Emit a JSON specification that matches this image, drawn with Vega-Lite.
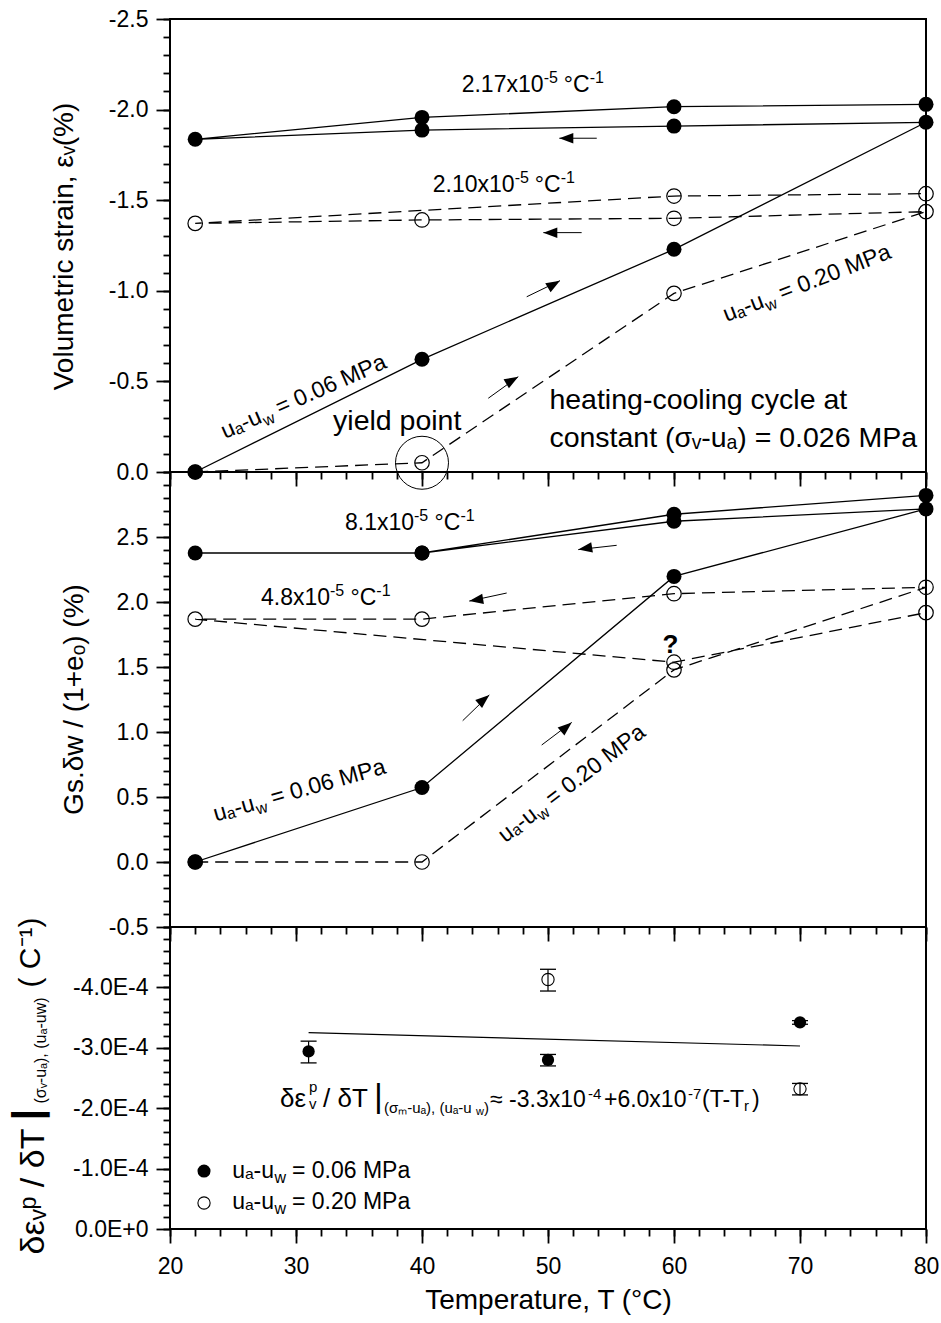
{
  "$schema": "https://vega.github.io/schema/vega-lite/v6.json",
  "background": "white",
  "padding": {"left": 6, "top": 7, "right": 0, "bottom": 0},
  "spacing": 0,
  "bounds": "flush",
  "config": {
    "font": "Liberation Sans",
    "view": {"stroke": "black", "strokeWidth": 2},
    "axis": {"tickColor": "black", "labelColor": "black", "titleColor": "black", "titleFontWeight": "normal", "labelFontSize": 23, "tickWidth": 1.8, "grid": false, "domain": false, "labelFlush": false, "labelOverlap": false},
    "text": {"color": "black"}
  },
  "datasets": {
    "strainF": [
      {"seq": 1, "T": 22, "v": 0}, {"seq": 2, "T": 40, "v": -0.622}, {"seq": 3, "T": 60, "v": -1.229}, {"seq": 4, "T": 80, "v": -1.93},
      {"seq": 5, "T": 60, "v": -1.909}, {"seq": 6, "T": 40, "v": -1.887}, {"seq": 7, "T": 22, "v": -1.836},
      {"seq": 8, "T": 40, "v": -1.957}, {"seq": 9, "T": 60, "v": -2.016}, {"seq": 10, "T": 80, "v": -2.029}
    ],
    "strainO": [
      {"seq": 1, "T": 22, "v": 0}, {"seq": 2, "T": 40, "v": -0.051}, {"seq": 3, "T": 60, "v": -0.986}, {"seq": 4, "T": 80, "v": -1.437},
      {"seq": 5, "T": 60, "v": -1.4}, {"seq": 6, "T": 40, "v": -1.391}, {"seq": 7, "T": 22, "v": -1.372},
      {"seq": 8, "T": 60, "v": -1.523}, {"seq": 9, "T": 80, "v": -1.536}
    ],
    "waterF": [
      {"seq": 1, "T": 22, "v": 0}, {"seq": 2, "T": 40, "v": 0.573}, {"seq": 3, "T": 60, "v": 2.197}, {"seq": 4, "T": 80, "v": 2.716},
      {"seq": 5, "T": 60, "v": 2.621}, {"seq": 6, "T": 40, "v": 2.377}, {"seq": 7, "T": 22, "v": 2.377},
      {"seq": 8, "T": 40, "v": 2.377}, {"seq": 9, "T": 60, "v": 2.675}, {"seq": 10, "T": 80, "v": 2.82}
    ],
    "waterO": [
      {"seq": 1, "T": 22, "v": 0}, {"seq": 2, "T": 40, "v": 0}, {"seq": 3, "T": 60, "v": 1.478}, {"seq": 4, "T": 80, "v": 2.113},
      {"seq": 5, "T": 60, "v": 2.064}, {"seq": 6, "T": 40, "v": 1.868}, {"seq": 7, "T": 22, "v": 1.868},
      {"seq": 8, "T": 60, "v": 1.537}, {"seq": 9, "T": 80, "v": 1.918}
    ],
    "yield": [{"T": 40, "v": -0.051}],
    "arr1L": [{"T": 50.9, "v": -1.842, "Ts": 53.87, "vs": -1.842}, {"T": 49.63, "v": -1.321, "Ts": 52.67, "vs": -1.321}],
    "arr1D": [{"T": 50.95, "v": -1.056, "Ts": 48.31, "vs": -0.967}, {"T": 47.64, "v": -0.526, "Ts": 45.26, "vs": -0.407}],
    "arr2L": [{"T": 52.4, "v": 2.403, "Ts": 55.45, "vs": 2.436}, {"T": 43.75, "v": 2.007, "Ts": 46.72, "vs": 2.069}],
    "arr2D": [{"T": 45.34, "v": 1.285, "Ts": 43.23, "vs": 1.087}, {"T": 51.88, "v": 1.074, "Ts": 49.5, "vs": 0.9}],
    "t1": [{"T": 43.15, "v": -2.097, "base": "2.17x10", "e1": "-5", "unit": "°C", "e2": "-1"}, {"T": 40.85, "v": -1.547, "base": "2.10x10", "e1": "-5", "unit": "°C", "e2": "-1"}],
    "t1big": [{"T": 32.94, "v": -0.232, "text": "yield point"}, {"T": 50.11, "v": -0.346, "text": "heating-cooling cycle at"}, {"T": 50.11, "v": -0.14, "text": "constant (σᵥ-uₐ) = 0.026 MPa"}],
    "lab1a": [{"T": 27.4, "v": -0.275, "pre": "uₐ-u", "sub": "w", "post": "= 0.06 MPa"}],
    "lab1b": [{"T": 67.26, "v": -0.911, "pre": "uₐ-u", "sub": "w", "post": "= 0.20 MPa"}],
    "t2": [{"T": 33.89, "v": 2.557, "base": "8.1x10", "e1": "-5", "unit": "°C", "e2": "-1"}, {"T": 27.22, "v": 1.974, "base": "4.8x10", "e1": "-5", "unit": "°C", "e2": "-1"}],
    "q": [{"T": 59.72, "v": 1.606, "text": "?"}],
    "lab2a": [{"T": 26.82, "v": 0.399, "pre": "uₐ-u", "sub": "w", "post": "= 0.06 MPa"}],
    "lab2b": [{"T": 49.25, "v": 0.34, "pre": "uₐ-u", "sub": "w", "post": "= 0.20 MPa"}],
    "rate": [
      {"s": "f", "T": 31, "v": -0.000294, "lo": -0.000311, "hi": -0.000275},
      {"s": "f", "T": 50, "v": -0.00028, "lo": -0.000289, "hi": -0.00027},
      {"s": "f", "T": 70, "v": -0.000342, "lo": -0.000345, "hi": -0.000339},
      {"s": "o", "T": 50, "v": -0.000413, "lo": -0.00043, "hi": -0.000394},
      {"s": "o", "T": 70, "v": -0.000232, "lo": -0.000241, "hi": -0.000222}
    ],
    "fit": [{"T": 31, "v": -0.000325}, {"T": 70, "v": -0.000303}],
    "leg": [{"s": "f", "T": 22.7, "v": -0.000096}, {"s": "o", "T": 22.7, "v": -0.000043}],
    "legText": [
      {"T": 28.25, "v": -0.0000843, "pre": "uₐ-u", "sub": "w", "post": "= 0.06 MPa"},
      {"T": 28.25, "v": -0.0000334, "pre": "uₐ-u", "sub": "w", "post": "= 0.20 MPa"}
    ],
    "eqGreek": [
      {"T": 28.73, "v": -0.0002028, "text": "δε"},
      {"T": 32.14, "v": -0.0002028, "text": "/ δT"}
    ],
    "eqMain": [
      {"T": 45.4, "v": -0.0002028, "text": "≈ -3.3x10"},
      {"T": 54.44, "v": -0.0002028, "text": "+6.0x10"},
      {"T": 62.22, "v": -0.0002028, "text": "(T-T"},
      {"T": 66.19, "v": -0.0002028, "text": ")"}
    ],
    "eqSup": [
      {"T": 31.03, "v": -0.000227, "text": "p"},
      {"T": 53.17, "v": -0.0002159, "text": "-4"},
      {"T": 61.11, "v": -0.0002159, "text": "-7"}
    ],
    "eqSub": [
      {"T": 31.03, "v": -0.0001995, "text": "v"},
      {"T": 36.98, "v": -0.0001918, "text": "(σₘ-uₐ), (uₐ-u"},
      {"T": 44.92, "v": -0.0001918, "text": ")"},
      {"T": 65.56, "v": -0.0001946, "text": "r"}
    ],
    "eqTiny": [{"T": 44.29, "v": -0.000188, "text": "w"}],
    "eqBar": [{"T": 36.19, "v": -0.0002028, "text": "|"}]
  },
  "vconcat": [
    {
      "width": 756, "height": 453,
      "encoding": {
        "x": {"field": "T", "type": "quantitative", "scale": {"domain": [20, 80], "nice": false, "zero": false}, "axis": null},
        "y": {"field": "v", "type": "quantitative", "scale": {"domain": [-2.5, 0], "reverse": true, "nice": false, "zero": false}, "axis": null}
      },
      "layer": [
        {"data": {"name": "strainO"}, "mark": {"type": "line", "color": "black", "strokeWidth": 1.3, "strokeDash": [13, 7]},
         "encoding": {"order": {"field": "seq", "type": "quantitative"},
           "x": {"field": "T", "type": "quantitative", "scale": {"domain": [20, 80], "nice": false, "zero": false},
                 "axis": {"orient": "bottom", "values": [20, 30, 40, 50, 60, 70, 80], "tickSize": 14, "labels": false, "title": null}},
           "y": {"field": "v", "type": "quantitative", "scale": {"domain": [-2.5, 0], "reverse": true, "nice": false, "zero": false},
                 "axis": {"orient": "left", "values": [-2.5, -2, -1.5, -1, -0.5, 0], "tickSize": 14, "labelPadding": 8,
                          "labelExpr": "datum.value == 0 ? '0.0' : '-' + format(-datum.value, '.1f')",
                          "title": "Volumetric strain, εᵥ(%)", "titleFontSize": 28, "titleX": -98, "titleY": 227, "titleBaseline": "alphabetic"}}}},
        {"data": {"name": "strainF"}, "mark": {"type": "line", "color": "black", "strokeWidth": 1.3},
         "encoding": {"order": {"field": "seq", "type": "quantitative"},
           "x": {"field": "T", "type": "quantitative", "scale": {"domain": [20, 80], "nice": false, "zero": false},
                 "axis": {"orient": "bottom", "values": [20,22,24,26,28,30,32,34,36,38,40,42,44,46,48,50,52,54,56,58,60,62,64,66,68,70,72,74,76,78,80], "tickSize": 7, "labels": false, "title": null}},
           "y": {"field": "v", "type": "quantitative", "scale": {"domain": [-2.5, 0], "reverse": true, "nice": false, "zero": false},
                 "axis": {"orient": "left", "values": [-2.5,-2.4,-2.3,-2.2,-2.1,-2,-1.9,-1.8,-1.7,-1.6,-1.5,-1.4,-1.3,-1.2,-1.1,-1,-0.9,-0.8,-0.7,-0.6,-0.5,-0.4,-0.3,-0.2,-0.1,0], "tickSize": 7, "labels": false, "title": null}}}},
        {"data": {"name": "strainO"}, "mark": {"type": "point", "shape": "circle", "filled": false, "color": "black", "strokeWidth": 1.2, "size": 210, "opacity": 1}},
        {"data": {"name": "strainF"}, "mark": {"type": "point", "shape": "circle", "filled": true, "color": "black", "size": 225, "opacity": 1}},
        {"data": {"name": "yield"}, "mark": {"type": "point", "shape": "circle", "filled": false, "color": "black", "strokeWidth": 1, "size": 2809, "opacity": 1}},
        {"data": {"name": "arr1L"}, "mark": {"type": "rule", "color": "black", "strokeWidth": 1}, "encoding": {"x2": {"field": "Ts"}, "y2": {"field": "vs"}}},
        {"data": {"name": "arr1L"}, "mark": {"type": "point", "shape": "M0,0L-2,-0.75L-2,0.75Z", "filled": true, "color": "black", "size": 196, "opacity": 1, "angle": 180}},
        {"data": {"name": "arr1D"}, "mark": {"type": "rule", "color": "black", "strokeWidth": 1}, "encoding": {"x2": {"field": "Ts"}, "y2": {"field": "vs"}}},
        {"data": {"name": "arr1D"}, "mark": {"type": "point", "shape": "M0,0L-2,-0.75L-2,0.75Z", "filled": true, "color": "black", "size": 196, "opacity": 1, "angle": 329.3}},
        {"data": {"name": "t1"}, "mark": {"type": "text", "align": "left", "baseline": "alphabetic", "fontSize": 23}, "encoding": {"text": {"field": "base", "type": "nominal"}}},
        {"data": {"name": "t1"}, "mark": {"type": "text", "align": "left", "baseline": "alphabetic", "fontSize": 16, "dx": 82, "dy": -9}, "encoding": {"text": {"field": "e1", "type": "nominal"}}},
        {"data": {"name": "t1"}, "mark": {"type": "text", "align": "left", "baseline": "alphabetic", "fontSize": 23, "dx": 102}, "encoding": {"text": {"field": "unit", "type": "nominal"}}},
        {"data": {"name": "t1"}, "mark": {"type": "text", "align": "left", "baseline": "alphabetic", "fontSize": 16, "dx": 128, "dy": -9}, "encoding": {"text": {"field": "e2", "type": "nominal"}}},
        {"data": {"name": "t1big"}, "mark": {"type": "text", "align": "left", "baseline": "alphabetic", "fontSize": 28.5}, "encoding": {"text": {"field": "text", "type": "nominal"}}},
        {"data": {"name": "lab1a"}, "mark": {"type": "text", "angle": 336.3, "align": "right", "baseline": "alphabetic", "fontSize": 23}, "encoding": {"text": {"field": "pre", "type": "nominal"}}},
        {"data": {"name": "lab1a"}, "mark": {"type": "text", "angle": 336.3, "align": "left", "baseline": "alphabetic", "fontSize": 16, "dx": 0.5, "dy": 5}, "encoding": {"text": {"field": "sub", "type": "nominal"}}},
        {"data": {"name": "lab1a"}, "mark": {"type": "text", "angle": 336.3, "align": "left", "baseline": "alphabetic", "fontSize": 23, "dx": 18}, "encoding": {"text": {"field": "post", "type": "nominal"}}},
        {"data": {"name": "lab1b"}, "mark": {"type": "text", "angle": 338.8, "align": "right", "baseline": "alphabetic", "fontSize": 23}, "encoding": {"text": {"field": "pre", "type": "nominal"}}},
        {"data": {"name": "lab1b"}, "mark": {"type": "text", "angle": 338.8, "align": "left", "baseline": "alphabetic", "fontSize": 16, "dx": 0.5, "dy": 5}, "encoding": {"text": {"field": "sub", "type": "nominal"}}},
        {"data": {"name": "lab1b"}, "mark": {"type": "text", "angle": 338.8, "align": "left", "baseline": "alphabetic", "fontSize": 23, "dx": 18}, "encoding": {"text": {"field": "post", "type": "nominal"}}}
      ],
      "resolve": {"axis": {"x": "independent", "y": "independent"}}
    },
    {
      "width": 756, "height": 455,
      "encoding": {
        "x": {"field": "T", "type": "quantitative", "scale": {"domain": [20, 80], "nice": false, "zero": false}, "axis": null},
        "y": {"field": "v", "type": "quantitative", "scale": {"domain": [-0.5, 3], "nice": false, "zero": false}, "axis": null}
      },
      "layer": [
        {"data": {"name": "waterO"}, "mark": {"type": "line", "color": "black", "strokeWidth": 1.3, "strokeDash": [13, 7]},
         "encoding": {"order": {"field": "seq", "type": "quantitative"},
           "x": {"field": "T", "type": "quantitative", "scale": {"domain": [20, 80], "nice": false, "zero": false},
                 "axis": {"orient": "bottom", "values": [20, 30, 40, 50, 60, 70, 80], "tickSize": 14, "labels": false, "title": null}},
           "y": {"field": "v", "type": "quantitative", "scale": {"domain": [-0.5, 3], "nice": false, "zero": false},
                 "axis": {"orient": "left", "values": [-0.5, 0, 0.5, 1, 1.5, 2, 2.5], "tickSize": 14, "labelPadding": 8,
                          "labelExpr": "datum.value < 0 ? '-' + format(-datum.value, '.1f') : format(datum.value, '.1f')",
                          "title": "Gs.δw / (1+eₒ)  (%)", "titleFontSize": 28, "titleX": -88, "titleY": 227, "titleBaseline": "alphabetic"}}}},
        {"data": {"name": "waterF"}, "mark": {"type": "line", "color": "black", "strokeWidth": 1.3},
         "encoding": {"order": {"field": "seq", "type": "quantitative"},
           "x": {"field": "T", "type": "quantitative", "scale": {"domain": [20, 80], "nice": false, "zero": false},
                 "axis": {"orient": "bottom", "values": [20,22,24,26,28,30,32,34,36,38,40,42,44,46,48,50,52,54,56,58,60,62,64,66,68,70,72,74,76,78,80], "tickSize": 7, "labels": false, "title": null}},
           "y": {"field": "v", "type": "quantitative", "scale": {"domain": [-0.5, 3], "nice": false, "zero": false},
                 "axis": {"orient": "left", "values": [-0.5,-0.4,-0.3,-0.2,-0.1,0,0.1,0.2,0.3,0.4,0.5,0.6,0.7,0.8,0.9,1,1.1,1.2,1.3,1.4,1.5,1.6,1.7,1.8,1.9,2,2.1,2.2,2.3,2.4,2.5,2.6,2.7,2.8,2.9,3], "tickSize": 7, "labels": false, "title": null}}}},
        {"data": {"name": "waterO"}, "mark": {"type": "point", "shape": "circle", "filled": false, "color": "black", "strokeWidth": 1.2, "size": 210, "opacity": 1}},
        {"data": {"name": "waterF"}, "mark": {"type": "point", "shape": "circle", "filled": true, "color": "black", "size": 225, "opacity": 1}},
        {"data": {"name": "arr2L"}, "mark": {"type": "rule", "color": "black", "strokeWidth": 1}, "encoding": {"x2": {"field": "Ts"}, "y2": {"field": "vs"}}},
        {"data": {"name": "arr2L"}, "mark": {"type": "point", "shape": "M0,0L-2,-0.75L-2,0.75Z", "filled": true, "color": "black", "size": 196, "opacity": 1, "angle": 170.7}},
        {"data": {"name": "arr2D"}, "mark": {"type": "rule", "color": "black", "strokeWidth": 1}, "encoding": {"x2": {"field": "Ts"}, "y2": {"field": "vs"}}},
        {"data": {"name": "arr2D"}, "mark": {"type": "point", "shape": "M0,0L-2,-0.75L-2,0.75Z", "filled": true, "color": "black", "size": 196, "opacity": 1, "angle": 319.5}},
        {"data": {"name": "t2"}, "mark": {"type": "text", "align": "left", "baseline": "alphabetic", "fontSize": 23}, "encoding": {"text": {"field": "base", "type": "nominal"}}},
        {"data": {"name": "t2"}, "mark": {"type": "text", "align": "left", "baseline": "alphabetic", "fontSize": 16, "dx": 69, "dy": -9}, "encoding": {"text": {"field": "e1", "type": "nominal"}}},
        {"data": {"name": "t2"}, "mark": {"type": "text", "align": "left", "baseline": "alphabetic", "fontSize": 23, "dx": 89.6}, "encoding": {"text": {"field": "unit", "type": "nominal"}}},
        {"data": {"name": "t2"}, "mark": {"type": "text", "align": "left", "baseline": "alphabetic", "fontSize": 16, "dx": 115.4, "dy": -9}, "encoding": {"text": {"field": "e2", "type": "nominal"}}},
        {"data": {"name": "q"}, "mark": {"type": "text", "align": "center", "baseline": "alphabetic", "fontSize": 26, "fontWeight": "bold"}, "encoding": {"text": {"field": "text", "type": "nominal"}}},
        {"data": {"name": "lab2a"}, "mark": {"type": "text", "angle": 344.2, "align": "right", "baseline": "alphabetic", "fontSize": 23}, "encoding": {"text": {"field": "pre", "type": "nominal"}}},
        {"data": {"name": "lab2a"}, "mark": {"type": "text", "angle": 344.2, "align": "left", "baseline": "alphabetic", "fontSize": 16, "dx": 0.5, "dy": 5}, "encoding": {"text": {"field": "sub", "type": "nominal"}}},
        {"data": {"name": "lab2a"}, "mark": {"type": "text", "angle": 344.2, "align": "left", "baseline": "alphabetic", "fontSize": 23, "dx": 18}, "encoding": {"text": {"field": "post", "type": "nominal"}}},
        {"data": {"name": "lab2b"}, "mark": {"type": "text", "angle": 322.6, "align": "right", "baseline": "alphabetic", "fontSize": 23}, "encoding": {"text": {"field": "pre", "type": "nominal"}}},
        {"data": {"name": "lab2b"}, "mark": {"type": "text", "angle": 322.6, "align": "left", "baseline": "alphabetic", "fontSize": 16, "dx": 0.5, "dy": 5}, "encoding": {"text": {"field": "sub", "type": "nominal"}}},
        {"data": {"name": "lab2b"}, "mark": {"type": "text", "angle": 322.6, "align": "left", "baseline": "alphabetic", "fontSize": 23, "dx": 18}, "encoding": {"text": {"field": "post", "type": "nominal"}}}
      ],
      "resolve": {"axis": {"x": "independent", "y": "independent"}}
    },
    {
      "width": 756, "height": 302,
      "encoding": {
        "x": {"field": "T", "type": "quantitative", "scale": {"domain": [20, 80], "nice": false, "zero": false}, "axis": null},
        "y": {"field": "v", "type": "quantitative", "scale": {"domain": [-0.0005, 0], "reverse": true, "nice": false, "zero": false}, "axis": null}
      },
      "layer": [
        {"data": {"name": "fit"}, "mark": {"type": "line", "color": "black", "strokeWidth": 1.2},
         "encoding": {
           "x": {"field": "T", "type": "quantitative", "scale": {"domain": [20, 80], "nice": false, "zero": false},
                 "axis": {"orient": "bottom", "values": [20, 30, 40, 50, 60, 70, 80], "tickSize": 14, "labelPadding": 12,
                          "title": "Temperature, T (°C)", "titleFontSize": 28, "titleX": 378, "titleY": 79, "titleBaseline": "alphabetic"}},
           "y": {"field": "v", "type": "quantitative", "scale": {"domain": [-0.0005, 0], "reverse": true, "nice": false, "zero": false},
                 "axis": {"orient": "left", "values": [-0.0004, -0.0003, -0.0002, -0.0001, 0], "tickSize": 14, "labelPadding": 8,
                          "labelExpr": "datum.value == 0 ? '0.0E+0' : '-' + format(-datum.value * 10000, '.1f') + 'E-4'",
                          "title": "δεᵥᵖ / δT", "titleFontSize": 34, "titleX": -127, "titleY": 264, "titleBaseline": "alphabetic"}}}},
        {"data": {"name": "rate"}, "mark": {"type": "rule", "color": "black", "strokeWidth": 1.2},
         "encoding": {
           "x": {"field": "T", "type": "quantitative", "scale": {"domain": [20, 80], "nice": false, "zero": false},
                 "axis": {"orient": "bottom", "values": [20,22,24,26,28,30,32,34,36,38,40,42,44,46,48,50,52,54,56,58,60,62,64,66,68,70,72,74,76,78,80], "tickSize": 7, "labels": false, "title": null}},
           "y": {"field": "lo", "type": "quantitative", "scale": {"domain": [-0.0005, 0], "reverse": true, "nice": false, "zero": false},
                 "axis": {"orient": "left", "values": [0,-0.00002,-0.00004,-0.00006,-0.00008,-0.0001,-0.00012,-0.00014,-0.00016,-0.00018,-0.0002,-0.00022,-0.00024,-0.00026,-0.00028,-0.0003,-0.00032,-0.00034,-0.00036,-0.00038,-0.0004,-0.00042,-0.00044,-0.00046,-0.00048,-0.0005], "tickSize": 7, "labels": false,
                          "title": "|", "titleFontSize": 41, "titleFontWeight": "bold", "titleX": -129.6, "titleY": 187, "titleBaseline": "alphabetic"}},
           "y2": {"field": "hi"}}},
        {"data": {"name": "rate"}, "mark": {"type": "tick", "orient": "horizontal", "size": 16, "thickness": 1.3, "color": "black", "opacity": 1},
         "encoding": {"y": {"field": "lo", "type": "quantitative", "scale": {"domain": [-0.0005, 0], "reverse": true, "nice": false, "zero": false}, "axis": null}}},
        {"data": {"name": "rate"}, "mark": {"type": "tick", "orient": "horizontal", "size": 16, "thickness": 1.3, "color": "black", "opacity": 1},
         "encoding": {"y": {"field": "hi", "type": "quantitative", "scale": {"domain": [-0.0005, 0], "reverse": true, "nice": false, "zero": false}, "axis": null}}},
        {"data": {"name": "rate"}, "transform": [{"filter": "datum.s == 'f'"}], "mark": {"type": "point", "shape": "circle", "filled": true, "color": "black", "size": 150, "opacity": 1}},
        {"data": {"name": "rate"}, "transform": [{"filter": "datum.s == 'o'"}], "mark": {"type": "point", "shape": "circle", "filled": false, "color": "black", "strokeWidth": 1.1, "size": 150, "opacity": 1}},
        {"data": {"name": "leg"}, "transform": [{"filter": "datum.s == 'f'"}], "mark": {"type": "point", "shape": "circle", "filled": true, "color": "black", "size": 170, "opacity": 1}},
        {"data": {"name": "leg"}, "transform": [{"filter": "datum.s == 'o'"}], "mark": {"type": "point", "shape": "circle", "filled": false, "color": "black", "strokeWidth": 1.1, "size": 150, "opacity": 1}},
        {"data": {"name": "legText"}, "mark": {"type": "text", "align": "right", "baseline": "alphabetic", "fontSize": 23}, "encoding": {"text": {"field": "pre", "type": "nominal"}}},
        {"data": {"name": "legText"}, "mark": {"type": "text", "align": "left", "baseline": "alphabetic", "fontSize": 16, "dx": 0.5, "dy": 5}, "encoding": {"text": {"field": "sub", "type": "nominal"}}},
        {"data": {"name": "legText"}, "mark": {"type": "text", "align": "left", "baseline": "alphabetic", "fontSize": 23, "dx": 18}, "encoding": {"text": {"field": "post", "type": "nominal"}}},
        {"data": {"name": "eqGreek"}, "mark": {"type": "text", "align": "left", "baseline": "alphabetic", "fontSize": 26}, "encoding": {"text": {"field": "text", "type": "nominal"}}},
        {"data": {"name": "eqMain"}, "mark": {"type": "text", "align": "left", "baseline": "alphabetic", "fontSize": 23}, "encoding": {"text": {"field": "text", "type": "nominal"}}},
        {"data": {"name": "eqSup"}, "mark": {"type": "text", "align": "left", "baseline": "alphabetic", "fontSize": 15}, "encoding": {"text": {"field": "text", "type": "nominal"}}},
        {"data": {"name": "eqSub"}, "mark": {"type": "text", "align": "left", "baseline": "alphabetic", "fontSize": 15}, "encoding": {"text": {"field": "text", "type": "nominal"}}},
        {"data": {"name": "eqTiny"}, "mark": {"type": "text", "align": "left", "baseline": "alphabetic", "fontSize": 11}, "encoding": {"text": {"field": "text", "type": "nominal"}}},
        {"data": {"name": "eqBar"}, "mark": {"type": "text", "align": "left", "baseline": "alphabetic", "fontSize": 34}, "encoding": {"text": {"field": "text", "type": "nominal"}}},
        {"data": {"name": "fit"}, "mark": {"type": "point", "opacity": 0},
         "encoding": {"y": {"field": "v", "type": "quantitative", "scale": {"domain": [-0.0005, 0], "reverse": true, "nice": false, "zero": false},
                 "axis": {"orient": "left", "ticks": false, "labels": false, "domain": false, "title": "(σᵥ-uₐ), (uₐ-uw)", "titleFontSize": 16, "titleX": -125, "titleY": 123, "titleBaseline": "alphabetic"}}}},
        {"data": {"name": "fit"}, "mark": {"type": "point", "opacity": 0},
         "encoding": {"y": {"field": "v", "type": "quantitative", "scale": {"domain": [-0.0005, 0], "reverse": true, "nice": false, "zero": false},
                 "axis": {"orient": "left", "ticks": false, "labels": false, "domain": false, "title": "( C⁻¹)", "titleFontSize": 30, "titleX": -131, "titleY": 25, "titleBaseline": "alphabetic"}}}}
      ],
      "resolve": {"axis": {"x": "independent", "y": "independent"}}
    }
  ]
}
